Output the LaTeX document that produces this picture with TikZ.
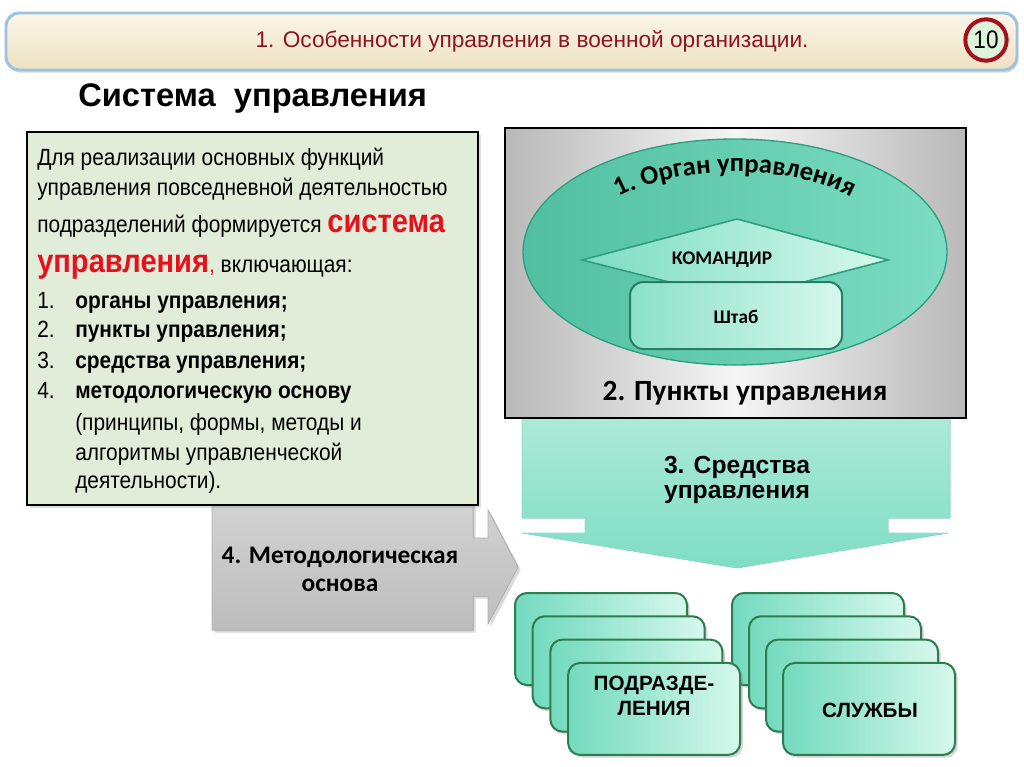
\documentclass[tikz,border=0pt]{standalone}
\usepackage{fontspec}
\setmainfont{Liberation Sans}
\newfontfamily\nrw[FakeStretch=0.89]{Liberation Sans}
\newfontfamily\clbr{Carlito}
\usetikzlibrary{shadows,decorations.text}

\definecolor{hdrred}{HTML}{8E1420}
\definecolor{hdrblue}{HTML}{9CC2DE}
\definecolor{hdrtop}{HTML}{FBF6EA}
\definecolor{hdrbot}{HTML}{EEE1C2}
\definecolor{ringred}{HTML}{A3121C}
\definecolor{ringfill}{HTML}{DDF3DC}
\definecolor{boxgreen}{HTML}{E2EDD9}
\definecolor{redword}{HTML}{E8101C}
\definecolor{tealdark}{HTML}{2F9E7E}
\definecolor{tealmid}{HTML}{5AD4B2}
\definecolor{teallight}{HTML}{D6F8EC}
\definecolor{stackedge}{HTML}{2E7D4E}

\begin{document}
\begin{tikzpicture}[x=0.75pt,y=-0.75pt,
    boxtxt/.style={anchor=base west, inner sep=0pt, font=\nrw\fontsize{17.6}{20}\selectfont},
    itemtxt/.style={anchor=base west, inner sep=0pt, font=\nrw\bfseries\fontsize{17.6}{20}\selectfont},
    lbl/.style={font=\clbr\bfseries\fontsize{14.5}{17}\selectfont, inner sep=0pt},
    redtxt/.style={text=redword, font=\nrw\bfseries\fontsize{24.5}{26}\selectfont},
    stackbox/.style={draw=stackedge, line width=1.5pt, rounded corners=9pt,
        left color=tealmid!85!white, right color=teallight,
        drop shadow={shadow xshift=2pt, shadow yshift=-2pt, opacity=.35}}]
\useasboundingbox (0,0) rectangle (1024,767);

% header
\filldraw[draw=hdrblue, line width=2.2pt, rounded corners=10pt, top color=hdrtop, bottom color=hdrbot,
    drop shadow={shadow xshift=1pt, shadow yshift=-2pt, opacity=.3}] (6,13) rectangle (1017,70);
\node (hdr) at (532,41) [font=\fontsize{17}{19}\selectfont, text=hdrred] {1. Особенности управления в военной организации.};
\node (num) at (986,40) [circle, draw=ringred, line width=3pt, fill=ringfill, minimum size=31pt, inner sep=0pt,
    font=\nrw\fontsize{19}{20}\selectfont] {10};

\node (title) at (78,106) [anchor=base west, inner sep=0pt, font=\bfseries\fontsize{24.5}{26}\selectfont] {Система\ \ управления};

% gray arrow
\filldraw[draw=gray!60, line width=.5pt, top color=gray!35, bottom color=gray!52,
    drop shadow={shadow xshift=2pt, shadow yshift=-2pt, opacity=.3}]
    (212,500) -- (473,500) -- (473,538) -- (488,538) -- (488,510) -- (518,567)
    -- (488,624) -- (488,596) -- (473,596) -- (473,630) -- (212,630) -- cycle;
\node (met) at (340,569) [lbl, align=center, font=\clbr\bfseries\fontsize{19}{21}\selectfont] {4. Методологическая\\основа};

% text box
\filldraw[fill=boxgreen, draw=black, line width=2pt,
    drop shadow={shadow xshift=2pt, shadow yshift=-2pt, opacity=.25}] (27,132) rectangle (478,505);
\node (l1) at (37,165) [boxtxt] {Для реализации основных функций};
\node (l2) at (37,195) [boxtxt] {управления повседневной деятельностью};
\node (l3) at (37,232) [boxtxt] {подразделений формируется \tikz[baseline]\node[redtxt, inner sep=0pt, anchor=base]{система};};
\node (l4) at (37,272) [boxtxt] {\tikz[baseline]\node[redtxt, inner sep=0pt, anchor=base]{управления};\textcolor{redword}{,} включающая:};
\node (n1) at (37,308) [boxtxt] {1.};
\node (n2) at (37,337) [boxtxt] {2.};
\node (n3) at (37,368) [boxtxt] {3.};
\node (n4) at (37,398) [boxtxt] {4.};
\node (i1) at (75,308) [itemtxt] {органы управления;};
\node (i2) at (75,337) [itemtxt] {пункты управления;};
\node (i3) at (75,368) [itemtxt] {средства управления;};
\node (i4) at (75,398) [itemtxt] {методологическую основу};
\node (i5) at (75,430) [boxtxt] {(принципы, формы, методы и};
\node (i6) at (75,460) [boxtxt] {алгоритмы управленческой};
\node (i7) at (75,488) [boxtxt] {деятельности).};

% teal arrow
\filldraw[draw=tealmid!70!white, line width=.5pt, top color=tealmid!50!white, bottom color=tealmid!78!white]
    (522,416) -- (950,416) -- (950,518) -- (888,518) -- (888,533) -- (948,533) -- (737,568)
    -- (522,533) -- (585,533) -- (585,518) -- (522,518) -- cycle;
\node (sredst) at (737,480) [align=center, font=\bfseries\fontsize{18.5}{19}\selectfont] {3. Средства\\управления};

% panel
\filldraw[draw=black, line width=1.6pt, left color=gray!55, right color=gray!55, middle color=gray!8] (505,128) rectangle (966,418);
\filldraw[draw=tealdark, line width=1pt, left color=tealmid!90!black, right color=tealmid!80!white] (735,252) ellipse [x radius=212, y radius=113];
\path[decorate, decoration={text along path, text align=center,
    text={|\clbr\bfseries\fontsize{20}{20}\selectfont|1. Орган управления}}]
    (596.4,212) arc[start angle=210, end angle=330, x radius=160, y radius=80];
\filldraw[draw=tealdark, line width=1.2pt, left color=tealmid!80!white, right color=teallight]
    (582,260) -- (737,219) -- (888,260) -- (800,283) -- (673,283) -- cycle;
\node (kmd) at (722,260) [lbl] {КОМАНДИР};
\filldraw[draw=tealdark!80!black, line width=1.5pt, rounded corners=10pt, left color=tealmid!70!white, right color=teallight]
    (630,282) rectangle (842,349);
\node (shtab) at (736,317) [lbl] {Штаб};
\node (punkt) at (745,393) [lbl, font=\clbr\bfseries\fontsize{22}{23}\selectfont] {2. Пункты управления};

% stacked boxes
\foreach \i in {0,...,3}
    \filldraw[stackbox] ({732+17*\i},{593+23.3*\i}) rectangle ++(172,92);
\foreach \i in {0,...,3}
    \filldraw[stackbox] ({515+17.7*\i},{593+23.3*\i}) rectangle ++(172,92);
\node (podr) at (654,696) [align=center, font=\bfseries\fontsize{15.5}{18.5}\selectfont] {ПОДРАЗДЕ-\\ЛЕНИЯ};
\node (sluzh) at (870,710) [font=\bfseries\fontsize{15.5}{17}\selectfont] {СЛУЖБЫ};
\end{tikzpicture}
\end{document}
